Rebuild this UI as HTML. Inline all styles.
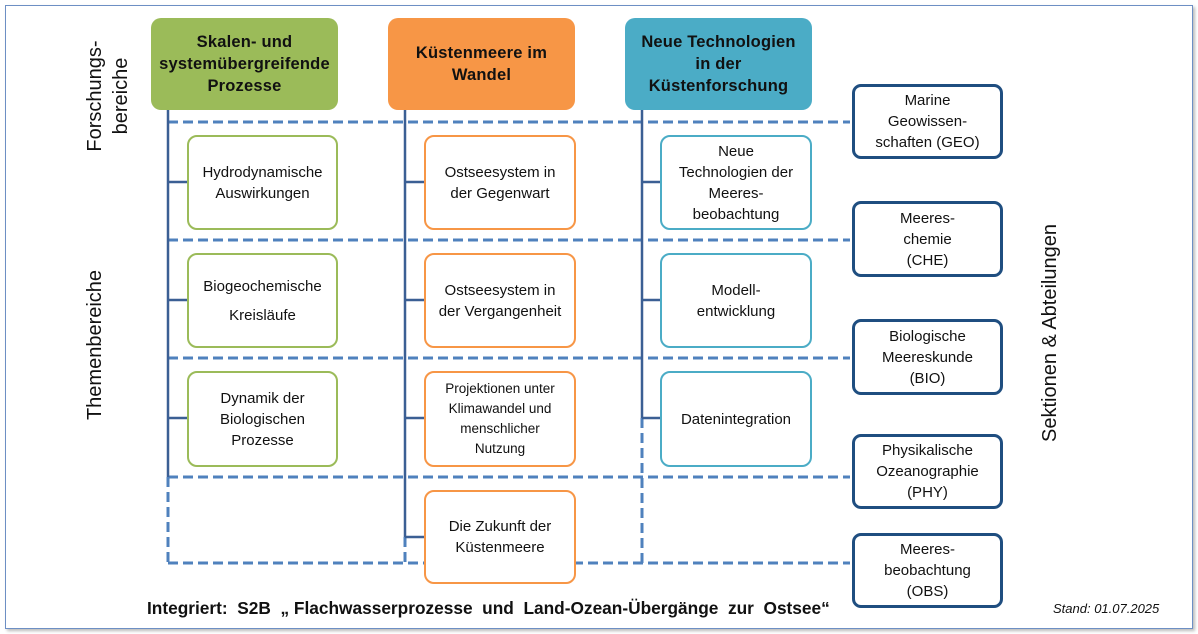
<!DOCTYPE html>
<html><head><meta charset="utf-8"><style>
body{margin:0;width:1198px;height:634px;background:#fff;font-family:"Liberation Sans",sans-serif;overflow:hidden;position:relative}
.frame{position:absolute;left:5px;top:5px;width:1186px;height:622px;border:1px solid #6d8fc4;box-shadow:2px 2px 3px #bbb}
.b{position:absolute;box-sizing:border-box;display:flex;align-items:center;justify-content:center;text-align:center;border-radius:10px;font-size:15px;line-height:21px;color:#111}
.h{font-weight:bold;font-size:16.5px;line-height:22px;color:#111;letter-spacing:0.2px}
.g{border:2.5px solid #9BBB59}.o{border:2.5px solid #F79646}.t{border:2.5px solid #4BACC6}
.s{border:3px solid #1F4E80;border-radius:9px}
.rot{position:absolute;transform:translate(-50%,-50%) rotate(-90deg);white-space:nowrap;font-size:20px;line-height:26px;text-align:center;color:#111}
</style></head><body>
<div class="frame"></div>
<svg style="position:absolute;left:0;top:0" width="1198" height="634">
<g stroke="#4F81BD" stroke-width="3" stroke-dasharray="10,5" fill="none">
<line x1="168" y1="122" x2="850" y2="122"/>
<line x1="168" y1="240" x2="850" y2="240"/>
<line x1="168" y1="358" x2="850" y2="358"/>
<line x1="168" y1="477" x2="850" y2="477"/>
<line x1="168" y1="563" x2="850" y2="563"/>
<line x1="168" y1="477" x2="168" y2="563"/>
<line x1="405" y1="537" x2="405" y2="563"/>
<line x1="642" y1="418" x2="642" y2="563"/>
</g>
<g stroke="#3B5F94" stroke-width="2.5" fill="none">
<line x1="168" y1="110" x2="168" y2="477"/>
<line x1="405" y1="110" x2="405" y2="537"/>
<line x1="642" y1="110" x2="642" y2="418"/>
<line x1="168" y1="182" x2="187" y2="182"/><line x1="168" y1="300" x2="187" y2="300"/><line x1="168" y1="418" x2="187" y2="418"/>
<line x1="405" y1="182" x2="424" y2="182"/><line x1="405" y1="300" x2="424" y2="300"/><line x1="405" y1="418" x2="424" y2="418"/><line x1="405" y1="537" x2="424" y2="537"/>
<line x1="642" y1="182" x2="660" y2="182"/><line x1="642" y1="300" x2="660" y2="300"/><line x1="642" y1="418" x2="660" y2="418"/>
</g>
</svg>
<div class="b h" style="left:151px;top:18px;width:187px;height:92px;background:#9BBB59">Skalen- und<br>systemübergreifende<br>Prozesse</div>
<div class="b h" style="left:388px;top:18px;width:187px;height:92px;background:#F79646">Küstenmeere im<br>Wandel</div>
<div class="b h" style="left:625px;top:18px;width:187px;height:92px;background:#4BACC6">Neue Technologien<br>in der<br>Küstenforschung</div>

<div class="b g" style="left:187px;top:135px;width:151px;height:95px;background:#fff">Hydrodynamische<br>Auswirkungen</div>
<div class="b g" style="left:187px;top:253px;width:151px;height:95px;background:#fff;line-height:29px">Biogeochemische<br>Kreisläufe</div>
<div class="b g" style="left:187px;top:371px;width:151px;height:96px;background:#fff">Dynamik der<br>Biologischen<br>Prozesse</div>

<div class="b o" style="left:424px;top:135px;width:152px;height:95px;background:#fff">Ostseesystem in<br>der Gegenwart</div>
<div class="b o" style="left:424px;top:253px;width:152px;height:95px;background:#fff">Ostseesystem in<br>der Vergangenheit</div>
<div class="b o" style="left:424px;top:371px;width:152px;height:96px;background:#fff;font-size:13.5px;line-height:20px">Projektionen unter<br>Klimawandel und<br>menschlicher<br>Nutzung</div>
<div class="b o" style="left:424px;top:490px;width:152px;height:94px;background:#fff">Die Zukunft der<br>Küstenmeere</div>

<div class="b t" style="left:660px;top:135px;width:152px;height:95px;background:#fff">Neue<br>Technologien der<br>Meeres-<br>beobachtung</div>
<div class="b t" style="left:660px;top:253px;width:152px;height:95px;background:#fff">Modell-<br>entwicklung</div>
<div class="b t" style="left:660px;top:371px;width:152px;height:96px;background:#fff">Datenintegration</div>

<div class="b s" style="left:852px;top:84px;width:151px;height:75px;background:#fff">Marine<br>Geowissen-<br>schaften (GEO)</div>
<div class="b s" style="left:852px;top:201px;width:151px;height:76px;background:#fff">Meeres-<br>chemie<br>(CHE)</div>
<div class="b s" style="left:852px;top:319px;width:151px;height:76px;background:#fff">Biologische<br>Meereskunde<br>(BIO)</div>
<div class="b s" style="left:852px;top:434px;width:151px;height:75px;background:#fff">Physikalische<br>Ozeanographie<br>(PHY)</div>
<div class="b s" style="left:852px;top:533px;width:151px;height:75px;background:#fff">Meeres-<br>beobachtung<br>(OBS)</div>

<div class="rot" style="left:108px;top:96px">Forschungs-<br>bereiche</div>
<div class="rot" style="left:95px;top:345px">Themenbereiche</div>
<div class="rot" style="left:1050px;top:333px">Sektionen &amp; Abteilungen</div>

<div style="position:absolute;left:147px;top:598px;font-weight:bold;font-size:17.3px;white-space:pre;color:#111">Integriert:  S2B  „ Flachwasserprozesse  und  Land-Ozean-Übergänge  zur  Ostsee“</div>
<div style="position:absolute;left:1053px;top:601px;font-style:italic;font-size:13px;color:#111">Stand: 01.07.2025</div>
</body></html>
